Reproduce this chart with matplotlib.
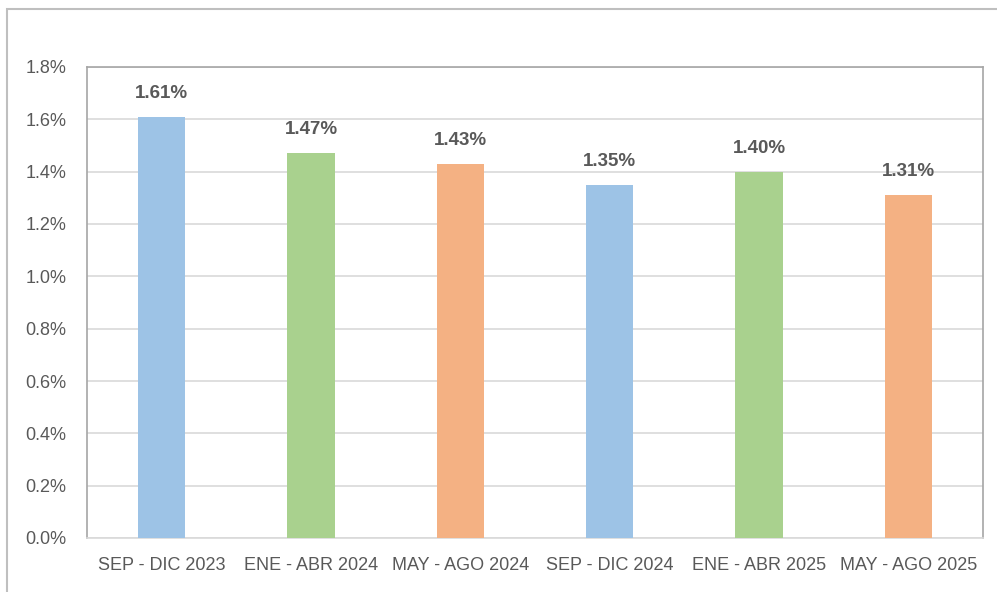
import matplotlib
matplotlib.use("Agg")
import matplotlib.pyplot as plt
from matplotlib.patches import Rectangle
from matplotlib.ticker import FuncFormatter

periods = ["SEP - DIC 2023", "ENE - ABR 2024", "MAY - AGO 2024",
           "SEP - DIC 2024", "ENE - ABR 2025", "MAY - AGO 2025"]
rates = [1.61, 1.47, 1.43, 1.35, 1.40, 1.31]
bar_colors = ["#9DC3E6", "#A9D18E", "#F4B183", "#9DC3E6", "#A9D18E", "#F4B183"]
y_ticks = [0.0, 0.2, 0.4, 0.6, 0.8, 1.0, 1.2, 1.4, 1.6, 1.8]

plt.rcParams["font.family"] = ["Liberation Sans", "DejaVu Sans"]
text_gray = "#595959"

figure = plt.figure(figsize=(9.97, 5.92), dpi=100)
axis = figure.add_axes([87 / 997, 1 - 538 / 592, (983 - 87) / 997, (538 - 67) / 592])

positions = range(len(periods))
axis.bar(positions, rates, width=0.315, color=bar_colors, zorder=3)
for position, rate in zip(positions, rates):
    axis.annotate(f"{rate:.2f}%", (position, rate), xytext=(0, 17), textcoords="offset points",
                  ha="center", va="center", fontsize=13.5, fontweight="bold", color=text_gray)

axis.set_xlim(-0.5, len(periods) - 0.5)
axis.set_ylim(0, 1.8)
axis.set_yticks(y_ticks)
axis.yaxis.set_major_formatter(FuncFormatter(lambda value, _: f"{value:.1f}%"))
axis.set_xticks(list(positions))
axis.set_xticklabels(periods)
axis.tick_params(axis="both", length=0, labelsize=13, labelcolor=text_gray)
axis.tick_params(axis="x", pad=14)
axis.tick_params(axis="y", pad=15)
axis.grid(axis="y", color="#D9D9D9", linewidth=1.2, zorder=0)
for spine in axis.spines.values():
    spine.set_color("#A6A6A6")
    spine.set_linewidth(1.2)
axis.spines["bottom"].set_color("#D9D9D9")

# marco exterior del gráfico
figure.patches.append(Rectangle((7 / 997, -0.01), 1.0, 1 - 9 / 592 + 0.01, transform=figure.transFigure,
                                fill=False, edgecolor="#BFBFBF", linewidth=1.5))

figure.savefig("out.png", dpi=100)
